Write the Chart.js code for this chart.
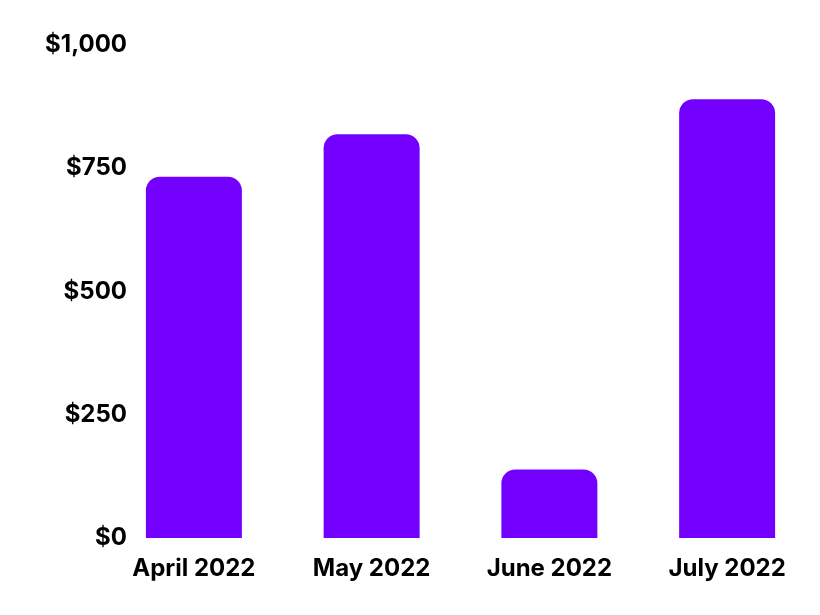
<!DOCTYPE html>
<html><head><meta charset="utf-8">
<script src="https://cdn.jsdelivr.net/npm/chart.js@4"></script>
<style>html,body{margin:0;padding:0;background:#fff}#wrap{width:820px;height:615px}</style>
</head><body><div id="wrap"><canvas id="c"></canvas></div>
<script>
const categories = ["April 2022", "May 2022", "June 2022", "July 2022"];
const revenue = [733, 819, 139, 890];
const tickValues = [0, 250, 500, 750, 1000];

const FONT = { family: 'Inter', size: 24, weight: '700' };
const fmt = v => '$' + v.toLocaleString('en-US');
const mctx = document.createElement('canvas').getContext('2d');
mctx.font = `${FONT.weight} ${FONT.size}px ${FONT.family}`;
const widest = Math.max(...tickValues.map(v => mctx.measureText(fmt(v)).width));
const yWidth = 105, labelRight = 127;

new Chart(document.getElementById('c'), {
  type: 'bar',
  data: {
    labels: categories,
    datasets: [{
      data: revenue,
      backgroundColor: '#7300ff',
      borderRadius: 14,
      borderSkipped: 'start',
      barPercentage: 0.54,
      categoryPercentage: 1.0
    }]
  },
  options: {
    responsive: true,
    maintainAspectRatio: false,
    animation: false,
    layout: { padding: { top: 45, right: 4, left: 0, bottom: 0 } },
    plugins: { legend: { display: false }, tooltip: { enabled: false } },
    scales: {
      x: {
        grid: { display: false, drawTicks: false },
        border: { display: false },
        ticks: { color: '#000', padding: 16, font: FONT },
        afterFit: s => { s.height = 77; }
      },
      y: {
        min: 0, max: 1000,
        afterBuildTicks: s => { s.ticks = tickValues.map(v => ({ value: v })); },
        afterFit: s => { s.width = yWidth; },
        grid: { display: false, drawTicks: false },
        border: { display: false },
        ticks: {
          color: '#000', mirror: true, crossAlign: 'far',
          padding: labelRight - yWidth - widest,
          font: FONT,
          callback: v => fmt(v)
        }
      }
    }
  }
});
</script></body></html>
